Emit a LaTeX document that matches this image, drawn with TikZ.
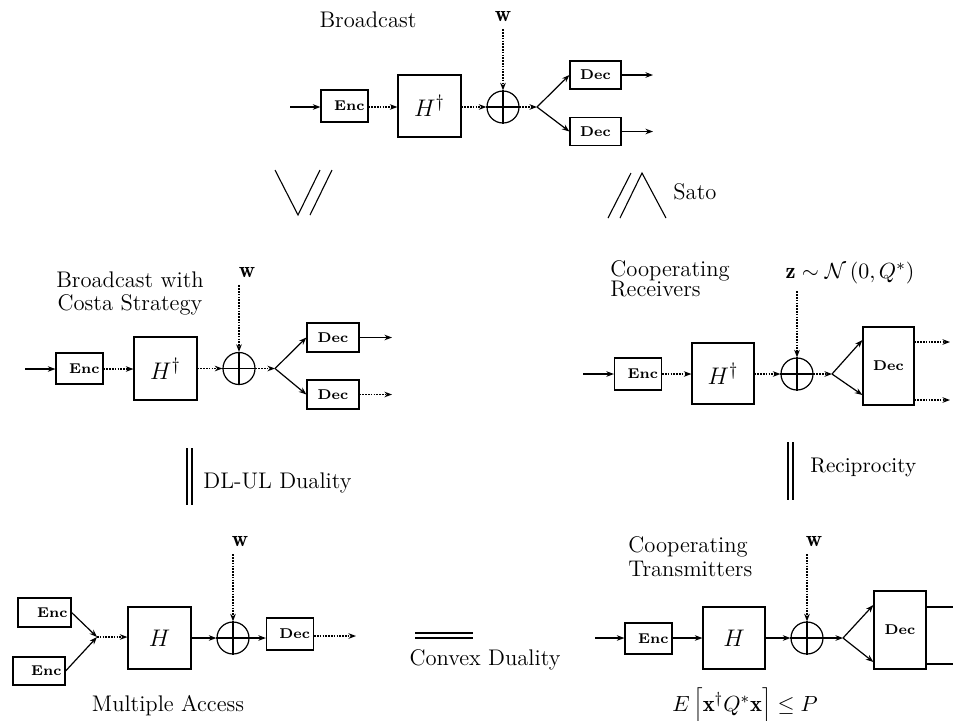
\documentclass[tikz,border=0pt]{standalone}
\usepackage{fontspec}
\usetikzlibrary{arrows.meta}
\tikzset{
  lbl/.style={font=\fontsize{11.3}{13}\selectfont, inner sep=0pt},
  wlbl/.style={font=\fontsize{11.3}{13}\selectfont, inner sep=3.5pt},
  blk/.style={draw, line width=0.6pt, inner sep=0pt, font=\fontsize{7.1}{8}\selectfont\bfseries},
  encbox/.style={blk, text width=20pt, align=right, inner xsep=1.75pt, minimum height=16pt},
  decbox/.style={blk, minimum width=25.5pt, minimum height=14pt},
  hbox/.style={draw, line width=0.6pt, inner sep=0pt, minimum width=31.5pt, minimum height=31pt, font=\fontsize{12.4}{14}\selectfont},
  sumnode/.style={draw, circle, minimum size=16pt, inner sep=0pt, line width=0.6pt},
  arr/.style={line width=0.6pt, -{Stealth[length=3.8pt,width=2.8pt]}},
  plain/.style={line width=0.6pt},
  dots/.style={dash pattern=on 0.8pt off 0.6pt},
  sym/.style={line width=0.55pt},
}
\newcommand{\plus}[1]{\draw[plain] (#1.north) -- (#1.south) (#1.west) -- (#1.east);}
\begin{document}
\begin{tikzpicture}[x=0.5pt,y=-0.5pt]
\useasboundingbox (0,0) rectangle (953,720);

% ---------------- Top: Broadcast ----------------
\node[lbl] (tT) at (368,20) {Broadcast};
\node[wlbl] (tw) at (503,17) {$\mathbf{w}$};
\coordinate (tin) at (290,107);
\node[encbox] (tEnc) at (344.5,106) {Enc};
\node[hbox] (tH) at (429.5,106) {$H^{\dagger}$};
\node[sumnode] (tC) at (503,107) {};
\plus{tC}
\coordinate (tJ) at (537,107);
\node[decbox] (tD1) at (595.5,75) {Dec};
\node[decbox] (tD2) at (595.5,131.5) {Dec};
\coordinate (tO1) at (653,75);
\coordinate (tO2) at (653,131.5);
\draw[arr] (tin) -- (tin -| tEnc.west);
\draw[arr,dots] (tEnc.east |- tin) -- (tin -| tH.west);
\draw[arr,dots] (tH.east |- tin) -- (tC);
\draw[arr,dots] (tC |- tw.south) -- (tC);
\draw[arr,dots] (tC) -- (tJ);
\draw[arr] (tJ) -- (tD1.west);
\draw[arr] (tJ) -- (tD2.west);
\draw[arr] (tD1) -- (tO1);
\draw[arr] (tD2) -- (tO2);

% ---------------- Sato symbols ----------------
\draw[sym] (275,170) -- (298,215) -- (320,170);
\draw[sym] (310,215) -- (332,170);
\draw[sym] (608,218) -- (631,173);
\draw[sym] (620,218) -- (642,173) -- (666,218);
\node[lbl, anchor=west] (sato) at (673,192) {Sato};

% ---------------- Middle left ----------------
\node[lbl, align=center, font=\fontsize{11.3}{11.5}\selectfont] (mlT) at (130,293) {Broadcast with\\Costa Strategy};
\node[wlbl] (mlw) at (247,273) {$\mathbf{w}$};
\coordinate (mlin) at (25,369);
\node[encbox, minimum height=15.5pt] (mlEnc) at (79.5,368.5) {Enc};
\node[hbox, minimum height=31.5pt] (mlH) at (165.5,368.5) {$H^{\dagger}$};
\node[sumnode] (mlC) at (239,368.5) {};
\plus{mlC}
\coordinate (mlJ) at (275,368.5);
\node[decbox, minimum width=26pt, minimum height=14.5pt] (mlD1) at (333,337.5) {Dec};
\node[decbox, minimum width=26pt, minimum height=14.5pt] (mlD2) at (333,394.5) {Dec};
\coordinate (mlO1) at (392,337.5);
\coordinate (mlO2) at (392,394.5);
\draw[arr] (mlin) -- (mlin -| mlEnc.west);
\draw[arr,dots] (mlEnc.east |- mlin) -- (mlin -| mlH.west);
\draw[arr,dots] (mlH.east |- mlJ) -- (mlC);
\draw[arr,dots] (mlC |- mlw.south) -- (mlC);
\draw[arr,dots] (mlC) -- (mlJ);
\draw[arr] (mlJ) -- (mlD1.west);
\draw[arr] (mlJ) -- (mlD2.west);
\draw[arr] (mlD1) -- (mlO1);
\draw[arr,dots] (mlD2) -- (mlO2);

% ---------------- Middle right ----------------
\node[lbl, anchor=base west] (mrT1) at (610,276) {Cooperating};
\node[lbl, anchor=base west] (mrT2) at (610,296.5) {Receivers};
\node[wlbl] (mrz) at (850,273) {$\mathbf{z}\sim\mathcal{N}\left(0,Q^{*}\right)$};
\coordinate (mrin) at (583,374);
\node[encbox] (mrEnc) at (638,374) {Enc};
\node[hbox, minimum width=31pt, minimum height=30.5pt] (mrH) at (723,373.5) {$H^{\dagger}$};
\node[sumnode] (mrC) at (797,374) {};
\plus{mrC}
\coordinate (mrJ) at (832,374);
\node[blk, minimum width=25.5pt, minimum height=39pt] (mrD) at (888.5,366) {Dec};
\coordinate (mrO1) at (950,342);
\coordinate (mrO2) at (950,400);
\draw[arr] (mrin) -- (mrin -| mrEnc.west);
\draw[arr,dots] (mrEnc.east |- mrin) -- (mrin -| mrH.west);
\draw[arr,dots] (mrH.east |- mrin) -- (mrC);
\draw[arr,dots] (mrC |- mrz.south) -- (mrC);
\draw[arr,dots] (mrC) -- (mrJ);
\draw[arr] (mrJ) -- ([yshift=13pt]mrD.west);
\draw[arr] (mrJ) -- ([yshift=-14.5pt]mrD.west);
\draw[arr,dots] (mrD.east |- mrO1) -- (mrO1);
\draw[arr,dots] (mrD.east |- mrO2) -- (mrO2);

% ---------------- DL-UL duality / Reciprocity ----------------
\draw[sym] (187,448) -- (187,505);
\draw[sym] (192,448) -- (192,505);
\node[lbl, anchor=west] (dlul) at (203,483) {DL-UL Duality};
\draw[sym] (788,442) -- (788,500);
\draw[sym] (793,442) -- (793,500);
\node[lbl, anchor=west, font=\fontsize{10.6}{12}\selectfont] (recip) at (810,467) {Reciprocity};

% ---------------- Bottom left: Multiple Access ----------------
\node[wlbl] (blw) at (240,542) {$\mathbf{w}$};
\node[encbox, text width=23pt, minimum height=14.5pt] (blE1) at (44.5,612.5) {Enc};
\node[encbox, text width=22.5pt, minimum height=14pt] (blE2) at (39,671) {Enc};
\coordinate (blJ) at (97,637);
\node[hbox] (blH) at (159.5,638) {$H$};
\node[sumnode] (blC) at (233,638) {};
\plus{blC}
\node[encbox, minimum height=16pt] (blD) at (290,634) {Dec};
\coordinate (blO) at (356,636);
\draw[arr] (blE1.east) -- (blJ);
\draw[arr] (blE2.east) -- (blJ);
\draw[arr,dots] (blJ) -- (blJ -| blH.west);
\draw[arr] (blH.east |- blC) -- (blC);
\draw[arr,dots] (blC |- blw.south) -- (blC);
\draw[arr] (blC) -- (blC -| blD.west);
\draw[arr,dots] (blD.east |- blO) -- (blO);
\node[lbl] (blT) at (168,706) {Multiple Access};

% ---------------- Convex duality ----------------
\draw[sym] (415,633) -- (473,633);
\draw[sym] (415,638) -- (473,638);
\node[lbl] (cvx) at (485,660) {Convex Duality};

% ---------------- Bottom right: Cooperating Transmitters ----------------
\node[lbl, anchor=base west] (brT1) at (628,552) {Cooperating};
\node[lbl, anchor=base west] (brT2) at (628,576) {Transmitters};
\node[wlbl] (brw) at (814,542) {$\mathbf{w}$};
\coordinate (brin) at (595,638);
\node[encbox, minimum height=15.5pt] (brEnc) at (648.5,638.5) {Enc};
\node[hbox, minimum width=31pt] (brH) at (734,638) {$H$};
\node[sumnode] (brC) at (807,638) {};
\plus{brC}
\coordinate (brJ) at (843,638);
\node[blk, minimum width=26pt, minimum height=39pt] (brD) at (900,630) {Dec};
\coordinate (brO1) at (953,607);
\coordinate (brO2) at (953,664);
\draw[arr] (brin) -- (brin -| brEnc.west);
\draw[arr] (brEnc.east |- brin) -- (brin -| brH.west);
\draw[arr] (brH.east |- brC) -- (brC);
\draw[arr,dots] (brC |- brw.south) -- (brC);
\draw[arr] (brC) -- (brJ);
\draw[arr] (brJ) -- ([yshift=12.5pt]brD.west);
\draw[arr] (brJ) -- ([yshift=-16pt]brD.west);
\draw[plain] (brD.east |- brO1) -- (brO1);
\draw[plain] (brD.east |- brO2) -- (brO2);
\node[lbl] (brE) at (745,706) {$E\left[\mathbf{x}^{\dagger}Q^{*}\mathbf{x}\right]\le P$};
\end{tikzpicture}
\end{document}
